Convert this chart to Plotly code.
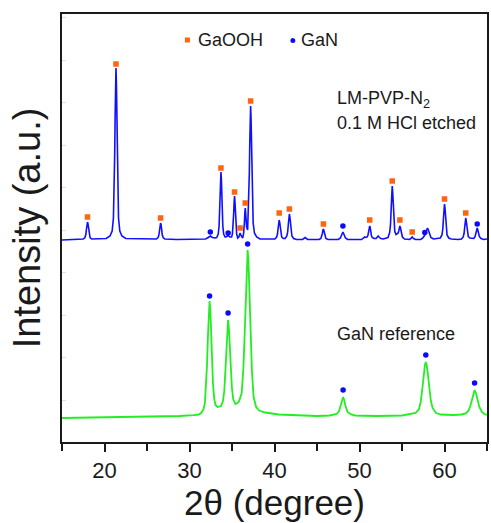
import plotly.graph_objects as go

# ---------------- data ----------------
# LM-PVP-N2, 0.1 M HCl etched pattern: 2θ (degree) and intensity above its own baseline (a.u.)
BLUE_2THETA = (
    [15.0, 17.4]
    + [17.5, 17.7, 17.8, 17.88, 17.94, 18.0, 18.06, 18.12, 18.2, 18.3, 18.5]
    + [20.2, 20.65, 20.9, 21.05, 21.13, 21.2, 21.25, 21.3, 21.35, 21.4, 21.45, 21.5, 21.57, 21.65, 21.8, 22.05, 22.5]
    + [25.5, 26.1, 26.3, 26.4, 26.48, 26.54, 26.6, 26.66, 26.72, 26.8, 26.9, 27.1]
    + [28.5, 31.5, 31.9, 32.2, 32.45, 32.7, 33.0]
    + [33.2, 33.38, 33.48, 33.55, 33.6, 33.65, 33.7, 33.75, 33.8, 33.85, 33.92, 34.02, 34.2]
    + [34.38, 34.55, 34.75, 34.95, 35.05, 35.15, 35.2, 35.25, 35.3, 35.35, 35.4, 35.45, 35.55, 35.67]
    + [35.8, 35.88, 35.95, 36.03, 36.12, 36.25]
    + [36.36, 36.42, 36.47, 36.51, 36.56, 36.61, 36.66, 36.72, 36.84]
    + [36.97, 37.04, 37.09, 37.14, 37.19, 37.24, 37.29, 37.34, 37.41, 37.49, 37.64, 37.9, 38.3]
    + [39.5, 40.05, 40.25, 40.35, 40.43, 40.49, 40.55, 40.61, 40.67, 40.75, 40.85, 41.05]
    + [41.25, 41.45, 41.55, 41.63, 41.69, 41.75, 41.81, 41.87, 41.95, 42.05, 42.25, 42.6]
    + [43.3, 43.6, 43.9]
    + [45.25, 45.45, 45.55, 45.63, 45.69, 45.75, 45.81, 45.87, 45.95, 46.05, 46.3]
    + [47.5, 47.75, 47.88, 47.97, 48.05, 48.13, 48.22, 48.35, 48.6]
    + [49.8, 50.25, 50.45, 50.6, 50.75, 50.9]
    + [51.0, 51.08, 51.14, 51.2, 51.26, 51.32, 51.4, 51.5, 51.7]
    + [51.95, 52.1, 52.2, 52.3, 52.5, 52.8]
    + [53.35, 53.55, 53.65, 53.73, 53.79, 53.85, 53.91, 53.97, 54.05, 54.15, 54.3, 54.45]
    + [54.55, 54.63, 54.69, 54.75, 54.81, 54.87, 54.95, 55.05, 55.3]
    + [55.9, 56.05, 56.2, 56.35, 56.6]
    + [57.2, 57.45, 57.65, 57.8, 57.9, 58.0, 58.1, 58.22, 58.4, 58.7]
    + [59.5, 59.7, 59.8, 59.88, 59.94, 60.0, 60.06, 60.12, 60.2, 60.3, 60.5, 60.8]
    + [61.6, 62.0, 62.2, 62.3, 62.38, 62.44, 62.5, 62.56, 62.62, 62.7, 62.8, 63.0, 63.25]
    + [63.45, 63.6, 63.7, 63.78, 63.85, 63.92, 64.0, 64.1, 64.3, 64.6, 65.0]
)
BLUE_INTENSITY = (
    [0, 0.5]
    + [1, 2.5, 5.5, 11, 16, 18, 16, 11, 5.5, 2.5, 1]
    + [1.5, 4, 9, 22, 47, 86, 123, 157, 172, 157, 123, 86, 47, 22, 9, 4, 1.5]
    + [0.5, 1, 2.5, 5, 10, 15, 17, 15, 10, 5, 2.5, 1]
    + [0.5, 0.5, 1, 2.5, 4, 2.5, 2]
    + [2.5, 6, 14, 28, 45, 61, 68, 61, 45, 28, 14, 6, 3]
    + [3.5, 4.5, 3, 3, 6, 15, 27, 38, 44, 38, 27, 15, 6, 2]
    + [3, 5, 7, 5, 3, 2]
    + [6, 11, 19, 27, 32, 27, 19, 13, 10]
    + [38, 67, 96, 122, 134, 122, 96, 67, 36, 17, 7, 3, 1]
    + [0.5, 1, 3, 6, 12, 17.5, 20, 17.5, 12, 6, 3, 1.5]
    + [1.5, 4, 8, 16, 23, 26, 23, 16, 8, 4, 1.5, 0.5]
    + [0.5, 2.5, 0.5]
    + [0.5, 1.5, 3.5, 6.5, 9.5, 11, 9.5, 6.5, 3.5, 1.5, 0.5]
    + [0.5, 2, 4, 6.5, 8, 6.5, 4, 2, 0.5]
    + [0.5, 0.5, 2, 3, 2.5, 3]
    + [5, 8.5, 12.5, 14, 12.5, 8.5, 4.5, 2.5, 1.5]
    + [1.5, 3, 4, 3, 1.5, 1]
    + [2.5, 7.5, 16, 32, 47, 54, 47, 32, 16, 8.5, 5.5, 6]
    + [7, 9.5, 12.5, 14, 12.5, 9, 5, 3, 1]
    + [0.5, 1.5, 3, 1.5, 0.5]
    + [0.5, 2, 4.5, 7, 10, 12, 10, 6, 2.5, 1]
    + [2, 5, 11, 22, 32, 36, 32, 22, 11, 5, 2, 1]
    + [0.5, 1, 3, 6.5, 13, 19, 22, 19, 13, 6.5, 3.5, 2, 1.5]
    + [1.5, 3.5, 6.5, 10, 12, 10, 6.5, 3.5, 1.5, 0.5, 1]
)

# GaN reference pattern: 2θ (degree) and intensity above its own baseline (a.u.)
REF_2THETA = (
    [15.0, 20.0, 25.0, 28.8, 30.5, 31.1]
    + [31.36, 31.66, 31.81, 31.96, 32.06, 32.16, 32.26, 32.36, 32.46, 32.56, 32.66, 32.76, 32.91, 33.06, 33.3]
    + [33.7, 33.94, 34.09, 34.24, 34.34, 34.44, 34.54, 34.64, 34.74, 34.84, 34.99, 35.14, 35.4]
    + [35.65, 35.84, 36.14, 36.34, 36.49, 36.64, 36.74, 36.84, 36.94, 37.04, 37.19, 37.34, 37.54, 37.84, 38.2, 38.9, 40.5]
    + [42.5, 45.0, 46.5]
    + [47.3, 47.6, 47.8, 47.95, 48.07, 48.2, 48.35, 48.6, 49.0, 49.5]
    + [52.0, 55.0]
    + [56.6, 57.0, 57.2, 57.4, 57.6, 57.7, 57.8, 57.9, 58.0, 58.2, 58.4, 58.6, 59.0, 59.6]
    + [61.0, 62.0]
    + [62.5, 62.8, 63.0, 63.2, 63.4, 63.54, 63.7, 63.9, 64.1, 64.4, 64.7, 65.0]
)
REF_INTENSITY = (
    [0, 0.5, 1, 2, 2.8, 3.4]
    + [5, 9, 15, 32, 53, 80, 106, 117, 106, 80, 54, 35, 19, 13, 11]
    + [12, 17, 27, 50, 70, 88, 98, 89, 71, 52, 30, 19, 14]
    + [15, 17, 25, 50, 84, 130, 155, 168, 156, 130, 84, 48, 21, 11, 7.5, 5.5, 3.5]
    + [2.5, 2, 2.5]
    + [4, 7, 12, 18, 21, 18, 12, 6, 3.5, 2.5]
    + [2, 2.5]
    + [5, 9, 16, 30, 47, 53, 56, 53, 47, 30, 17, 10, 5, 3.5]
    + [3, 3.5]
    + [4.5, 7, 11, 17, 25, 28, 25, 17, 11, 6, 4, 3]
)

# reflection markers (marker level above the pattern's baseline, a.u.)
GAOOH_MARK_2THETA = [18.0, 21.35, 26.6, 33.7, 35.3, 35.95, 36.56, 37.19, 40.55,
                     41.75, 45.75, 51.2, 53.85, 54.75, 56.2, 60.0, 62.5]
GAOOH_MARK_LEVEL = [23, 176, 22, 72, 48, 12, 37, 139, 27,
                    31, 16, 20, 59, 20, 8, 41, 27]
GAN_ON_BLUE_2THETA = [32.45, 34.55, 48.05, 57.68, 63.85]
GAN_ON_BLUE_LEVEL = [8, 7, 14, 7.5, 16]
GAN_ON_REF_2THETA = [32.36, 34.54, 36.84, 48.07, 57.8, 63.54]
GAN_ON_REF_LEVEL = [122, 105, 174, 28, 63, 35]

X_TICKS = [20, 30, 40, 50, 60]

# stacking offsets of the two patterns
BLUE_OFFSET = 202
REF_OFFSET = 24

# ---------------- styling ----------------
FONT = "Liberation Sans, Arial, Helvetica, sans-serif"
BLUE = "#1010ff"
GREEN = "#22ee22"
ORANGE = "#ff6410"
DOT_BLUE = "#0a0aff"
INK = "#1a1a1a"

fig = go.Figure()
fig.add_trace(go.Scatter(
    x=BLUE_2THETA, y=[v + BLUE_OFFSET for v in BLUE_INTENSITY],
    mode="lines", line=dict(color=BLUE, width=1.6), showlegend=False,
    name="LM-PVP-N2 0.1 M HCl etched"))
fig.add_trace(go.Scatter(
    x=REF_2THETA, y=[v + REF_OFFSET for v in REF_INTENSITY],
    mode="lines", line=dict(color=GREEN, width=1.8), showlegend=False,
    name="GaN reference"))
fig.add_trace(go.Scatter(
    x=GAOOH_MARK_2THETA, y=[v + BLUE_OFFSET for v in GAOOH_MARK_LEVEL],
    mode="markers", marker=dict(symbol="square", size=5.5, color=ORANGE),
    showlegend=False, name="GaOOH"))
fig.add_trace(go.Scatter(
    x=GAN_ON_BLUE_2THETA + GAN_ON_REF_2THETA,
    y=[v + BLUE_OFFSET for v in GAN_ON_BLUE_LEVEL] + [v + REF_OFFSET for v in GAN_ON_REF_LEVEL],
    mode="markers", marker=dict(symbol="circle", size=5.5, color=DOT_BLUE),
    showlegend=False, name="GaN"))

# plot-area geometry helpers (pixels -> paper)
L, R, T, B = 62, 2, 14, 81
PW, PH = 491 - L - R, 523 - T - B


def px(xp):
    return (xp - L) / PW


def py(yp):
    return (523 - B - yp) / PH


annotations = [
    dict(text="GaOOH", x=px(197), y=py(40), xanchor="left", yanchor="middle"),
    dict(text="GaN", x=px(300), y=py(40), xanchor="left", yanchor="middle"),
    dict(text="LM-PVP-N<sub>2</sub>", x=px(336), y=py(100), xanchor="left", yanchor="middle"),
    dict(text="0.1 M HCl etched", x=px(336), y=py(123), xanchor="left", yanchor="middle"),
    dict(text="GaN reference", x=px(336), y=py(334), xanchor="left", yanchor="middle"),
]
for a in annotations:
    a.update(xref="paper", yref="paper", showarrow=False,
             font=dict(family=FONT, size=18, color=INK))

shapes = [
    dict(type="rect", xref="paper", yref="paper",
         x0=px(185.5), x1=px(190.5), y0=py(42.5), y1=py(37.5),
         fillcolor=ORANGE, line=dict(width=0)),
    dict(type="circle", xref="paper", yref="paper",
         x0=px(291.5), x1=px(296.5), y0=py(43), y1=py(38),
         fillcolor=DOT_BLUE, line=dict(width=0)),
]

fig.update_layout(
    width=491, height=523,
    margin=dict(l=L, r=R, t=T, b=B, pad=0),
    paper_bgcolor="white", plot_bgcolor="white",
    font=dict(family=FONT, color=INK),
    annotations=annotations, shapes=shapes,
    showlegend=False,
)
fig.update_xaxes(
    range=[15, 65], tickvals=X_TICKS, ticktext=[str(t) for t in X_TICKS],
    ticks="outside", ticklen=8, tickwidth=1.5, tickcolor=INK,
    minor=dict(dtick=5, tick0=15, ticks="outside", ticklen=7, tickwidth=1.5, tickcolor=INK),
    showline=True, mirror=True, linewidth=2, linecolor=INK,
    showgrid=False, zeroline=False,
    tickfont=dict(family=FONT, size=22, color=INK),
    title=dict(text="2θ (degree)", font=dict(family=FONT, size=35, color=INK), standoff=4),
)
fig.update_yaxes(
    range=[0, PH], tick0=42, dtick=42.5, showticklabels=False,
    ticks="inside", ticklen=4, tickwidth=1, tickcolor="#dedede",
    showline=True, mirror=True, linewidth=2, linecolor=INK,
    showgrid=False, zeroline=False,
    title=dict(text="Intensity (a.u.)", font=dict(family=FONT, size=38, color=INK), standoff=8),
)

fig.write_html("out.html")
